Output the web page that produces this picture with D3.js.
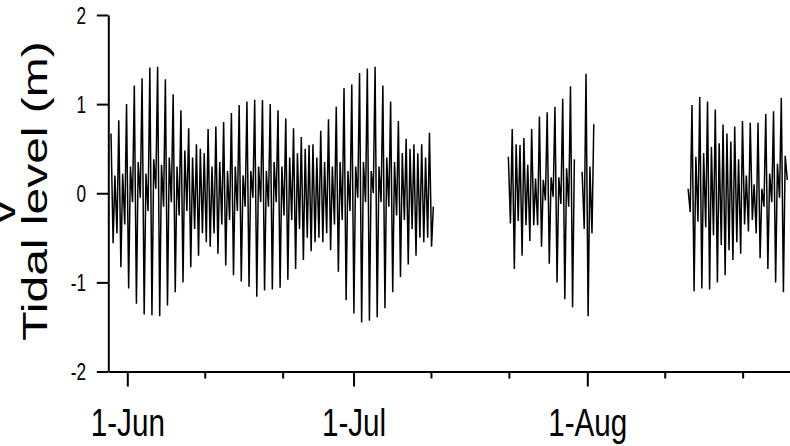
<!DOCTYPE html>
<html>
<head>
<meta charset="utf-8">
<script src="https://cdn.jsdelivr.net/npm/d3@7"></script>
<style>
  body { margin: 0; background: #fff; }
  svg { display: block; font-family: "Liberation Sans", Arial, sans-serif; }
</style>
</head>
<body>
<div id="chart"></div>
<script>
// tidal extremes, one entry per lunar day:
// A = first high/low pair of the day, B = second pair (null = no record)
const DAY = 864e5;
const lunarDay = 1.03;
const slotOffsets = [0, 0.27, 0.5, 0.77]; // highA, lowA, highB, lowB

const seg1Start = Date.UTC(2019, 4, 29, 20, 7);
const seg1HighA = [0.67, 0.82, 1.00, 1.21, 1.29, 1.41, 1.42, 1.28, 1.11, 0.93, 0.73, 0.55,
  0.45, 0.30, 0.35, 0.25, 0.30, 0.20, 0.25, 0.30, 0.25, 0.35, 0.30, 0.40, 0.45, 0.50, 0.55,
  0.70, 0.83, 0.97, 1.18, 1.22, 1.35, 1.40, 1.42, 1.21, 1.03, 0.81, 0.61, 0.55, 0.55, 0.68];
const seg1LowA = [-0.56, -0.83, -1.07, -1.24, -1.36, -1.37, -1.38, -1.26, -1.11, -1.00, -0.83, -0.70,
  -0.55, -0.45, -0.35, -0.30, -0.20, -0.15, -0.05, -0.10, -0.15, -0.10, -0.25, -0.30, -0.40, -0.50, -0.55,
  -0.55, -0.64, -0.88, -1.20, -1.35, -1.45, -1.43, -1.39, -1.29, -1.11, -0.94, -0.80, -0.70, -0.55, -0.60];
const seg1HighB = [0.20, 0.22, 0.30, 0.35, 0.22, 0.38, 0.32, 0.40, 0.30, 0.48, 0.40, 0.50,
  0.72, 0.75, 0.80, 0.90, 0.99, 1.03, 1.05, 1.045, 1.00, 0.93, 0.84, 0.73, 0.63, 0.54, 0.40,
  0.35, 0.30, 0.35, 0.25, 0.30, 0.35, 0.25, 0.30, 0.40, 0.35, 0.45, 0.50, 0.45, 0.40, -0.15];
const seg1LowB = [-0.45, -0.35, -0.10, -0.05, -0.20, 0.05, -0.15, -0.10, -0.25, -0.20, -0.40, -0.45,
  -0.60, -0.68, -0.81, -0.92, -0.99, -1.05, -1.16, -1.09, -1.08, -1.06, -0.97, -0.85, -0.75, -0.65, -0.50,
  -0.45, -0.35, -0.30, -0.20, -0.05, -0.10, 0.00, -0.10, -0.15, -0.25, -0.30, -0.40, -0.50, -0.50, null];

const seg2Start = Date.UTC(2019, 6, 21, 12, 43);
const seg2HighA = [0.41, 0.55, 0.62, 0.72, 0.86, 0.91, 0.97, 1.06, 1.20, null, 1.34, 0.775];
const seg2LowA = [-0.34, -0.31, -0.36, -0.36, -0.60, -0.79, -1.00, -1.19, -1.28, null, -1.38, null];
const seg2HighB = [0.72, 0.54, 0.32, 0.165, 0.15, 0.18, 0.18, 0.28, 0.38, 0.24, 0.30, null];
const seg2LowB = [-0.85, -0.70, -0.535, -0.36, -0.08, -0.04, -0.12, -0.15, null, -0.40, -0.45, null];

const seg3Start = Date.UTC(2019, 7, 13, 20, 27);
const seg3HighA = [null, 0.99, 1.08, 1.03, 0.94, 0.77, 0.58, 0.38, 0.20, 0.10, 0.05, 0.22, 0.33, 0.42];
const seg3LowA = [null, -1.10, -1.07, -1.08, -1.00, -0.92, -0.75, -0.68, -0.43, -0.45, -0.15, -0.10, -0.05, 0.15];
const seg3HighB = [0.05, 0.41, 0.45, 0.52, 0.56, 0.67, 0.75, 0.81, 0.79, 0.79, 0.89, 0.92, 1.07, null];
const seg3LowB = [-0.21, -0.32, -0.38, -0.47, -0.58, -0.64, -0.55, -0.35, -0.30, -0.73, -0.85, -1.00, -1.11, null];

const yTicks = [-2, -1, 0, 1, 2];
const monthStarts = [Date.UTC(2019, 5, 1), Date.UTC(2019, 6, 1), Date.UTC(2019, 7, 1)];
const minorOffsets = [31 / 3, 62 / 3]; // days after each month start

function buildSeries(start, highA, lowA, highB, lowB) {
  const pts = [];
  highA.forEach((_, i) => {
    [highA[i], lowA[i], highB[i], lowB[i]].forEach((v, j) => {
      pts.push({ t: new Date(start + (i + slotOffsets[j]) * lunarDay * DAY), v: v });
    });
  });
  return pts;
}

const series = [
  buildSeries(seg1Start, seg1HighA, seg1LowA, seg1HighB, seg1LowB),
  buildSeries(seg2Start, seg2HighA, seg2LowA, seg2HighB, seg2LowB),
  buildSeries(seg3Start, seg3HighA, seg3LowA, seg3HighB, seg3LowB)
];

const svg = d3.select("#chart")
  .append("svg")
  .attr("width", 790)
  .attr("height", 446);

const x = d3.scaleUtc()
  .domain([Date.UTC(2019, 4, 29, 11, 30), Date.UTC(2019, 7, 27, 21, 7)])
  .range([108.3, 790]);

const y = d3.scaleLinear()
  .domain([-2, 2])
  .range([371.5, 15]);

// tide line
const line = d3.line()
  .defined(d => d.v != null)
  .x(d => x(d.t))
  .y(d => y(d.v));

svg.append("g")
  .selectAll("path")
  .data(series)
  .enter()
  .append("path")
  .attr("d", line)
  .attr("fill", "none")
  .attr("stroke", "#000")
  .attr("stroke-width", 1.5);

// y axis
const yAxis = svg.append("g")
  .attr("transform", "translate(108.3,0)")
  .call(d3.axisLeft(y).tickValues(yTicks).tickSize(11.5).tickSizeOuter(0).tickFormat(d => String(d)));

yAxis.selectAll("path, line").attr("stroke", "#000").attr("stroke-width", 2);
yAxis.selectAll("text")
  .attr("x", -22.3 / 0.75)
  .attr("dy", "0.36em")
  .attr("transform", "scale(0.75,1)")
  .style("font-size", "23px")
  .style("font-family", "Liberation Sans, Arial, sans-serif")
  .attr("fill", "#000");

// x axis
const xAxis = svg.append("g")
  .attr("transform", "translate(0,371.5)")
  .call(d3.axisBottom(x).tickValues(monthStarts.map(d => new Date(d))).tickSize(15).tickSizeOuter(0)
    .tickFormat(d3.utcFormat("%-d-%b")));

xAxis.selectAll("path, line").attr("stroke", "#000").attr("stroke-width", 2);
xAxis.selectAll("text")
  .attr("y", 65)
  .attr("dy", 0)
  .attr("transform", "scale(0.75,1)")
  .style("font-size", "39.5px")
  .style("font-family", "Liberation Sans, Arial, sans-serif")
  .attr("fill", "#000");

const minorTicks = [];
monthStarts.forEach(m => minorOffsets.forEach(o => minorTicks.push(new Date(m + o * DAY))));

xAxis.selectAll(".minor")
  .data(minorTicks)
  .enter()
  .append("line")
  .attr("class", "minor")
  .attr("x1", d => x(d))
  .attr("x2", d => x(d))
  .attr("y1", 0)
  .attr("y2", 7)
  .attr("stroke", "#000")
  .attr("stroke-width", 2);

// axis title
svg.append("text")
  .attr("transform", "translate(46.7,191) scale(0.75,1) rotate(-90)")
  .attr("text-anchor", "middle")
  .attr("font-size", "48px")
  .attr("fill", "#000")
  .text("Tidal level (m)");

// letter of the neighbouring panel, cut by the left edge as in the reference
svg.append("text")
  .attr("transform", "translate(15,212) scale(0.75,1) rotate(-90)")
  .attr("text-anchor", "middle")
  .attr("font-size", "48px")
  .attr("fill", "#000")
  .text("v");
</script>
</body>
</html>
